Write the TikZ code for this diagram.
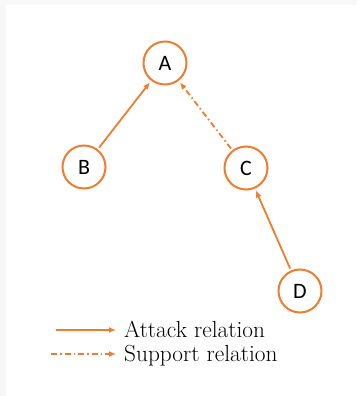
\documentclass[tikz,border=0pt]{standalone}
\usepackage{fontspec}
\newfontfamily\nodefont{Carlito}
\usetikzlibrary{arrows.meta}
\definecolor{orng}{HTML}{ED7D31}
\definecolor{bgray}{HTML}{F8F8F8}
\tikzset{
  arg/.style={circle, draw=orng, line width=2pt, minimum size=43pt, inner sep=0pt, outer sep=3pt, font=\nodefont\fontsize{22}{26}\selectfont},
  attack/.style={draw=orng, line width=1.8pt, -{Latex[length=7pt,width=6pt]}},
  support/.style={attack, dash pattern=on 6pt off 3pt on 1.5pt off 3pt},
  legtext/.style={anchor=base west, inner sep=0pt, font=\fontsize{23.3}{26}\selectfont}
}
\begin{document}
\begin{tikzpicture}[x=1pt,y=-1pt]
\useasboundingbox (0,0) rectangle (357,396);
\fill[bgray] (0,0) rectangle (357,396);
\fill[white] (6,5) rectangle (357,396);
\node[arg] (A) at (165,63) {A};
\node[arg] (B) at (84,167) {B};
\node[arg] (C) at (246,168) {C};
\node[arg] (D) at (300,291) {D};
\draw[attack] (B) -- (A);
\draw[support] (C) -- (A);
\draw[attack] (D) -- (C);
\coordinate (l1s) at (56,330);
\coordinate (l1e) at (116,330);
\coordinate (l2s) at (51,354);
\coordinate (l2e) at (116,354);
\draw[attack] (l1s) -- (l1e);
\draw[support] (l2s) -- (l2e);
\node[legtext] (t1) at (124,337) {Attack relation};
\node[legtext] (t2) at (124,361) {Support relation};
\end{tikzpicture}
\end{document}
